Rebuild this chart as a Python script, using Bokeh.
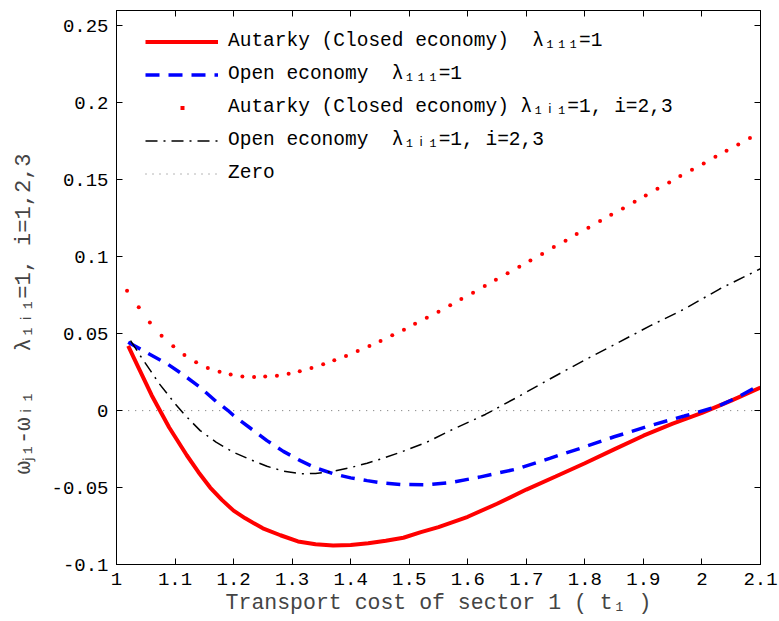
from bokeh.plotting import figure
from bokeh.models import LinearAxis, Legend, LegendItem, FixedTicker, Range1d
from bokeh.embed import file_html
from bokeh.resources import INLINE

# ---------------- data ----------------
aut_x = [1.02, 1.03, 1.04, 1.05, 1.06, 1.07, 1.08, 1.09, 1.10, 1.12, 1.14, 1.16,
         1.18, 1.20, 1.22, 1.25, 1.28, 1.31, 1.34, 1.37, 1.40, 1.43, 1.46, 1.49,
         1.52, 1.55, 1.60, 1.65, 1.70, 1.75, 1.80, 1.85, 1.90, 1.95, 2.00, 2.05,
         2.10]
aut_y = [0.042, 0.034, 0.026, 0.018, 0.010, 0.003, -0.004, -0.011, -0.017,
         -0.029, -0.040, -0.050, -0.058, -0.065, -0.070, -0.0765, -0.081, -0.085,
         -0.0868, -0.0876, -0.0873, -0.0862, -0.0846, -0.0826, -0.079, -0.0757,
         -0.069, -0.0605, -0.0513, -0.0428, -0.0342, -0.0252, -0.0163, -0.0085,
         -0.0015, 0.0065, 0.0150]

open_x = [1.02, 1.05, 1.087, 1.115, 1.143, 1.17, 1.19, 1.20, 1.23, 1.257, 1.285,
          1.314, 1.34, 1.371, 1.40, 1.428, 1.455, 1.485, 1.53, 1.57, 1.62, 1.684,
          1.74, 1.798, 1.85, 1.912, 1.97, 2.026, 2.06, 2.10]
open_y = [0.0444, 0.038, 0.0303, 0.023, 0.0151, 0.006, 0.0002, -0.0032, -0.0118,
          -0.0195, -0.0265, -0.0325, -0.0372, -0.0411, -0.0437, -0.0455, -0.0470,
          -0.0480, -0.0482, -0.0468, -0.0432, -0.0379, -0.031, -0.0238, -0.017,
          -0.0097, -0.0035, 0.0026, 0.0085, 0.0169]

aut23_x = [1.018, 1.038, 1.057, 1.077, 1.097, 1.116, 1.136, 1.156, 1.176, 1.195,
           1.215, 1.235, 1.254, 1.274, 1.294, 1.313, 1.333, 1.353, 1.372, 1.392,
           1.412, 1.432, 1.451, 1.471, 1.491, 1.510, 1.530, 1.550, 1.570, 1.589,
           1.609, 1.629, 1.648, 1.668, 1.688, 1.707, 1.727, 1.747, 1.767, 1.786,
           1.806, 1.826, 1.845, 1.865, 1.885, 1.904, 1.924, 1.944, 1.963, 1.983,
           2.003, 2.023, 2.042, 2.062, 2.082]
aut23_y = [0.0779, 0.0671, 0.0573, 0.0487, 0.0418, 0.0362, 0.0314, 0.0277, 0.0253,
           0.0234, 0.0221, 0.0219, 0.0221, 0.0227, 0.0240, 0.0255, 0.0277, 0.0301,
           0.0327, 0.0355, 0.0388, 0.0420, 0.0453, 0.0490, 0.0526, 0.0565, 0.0604,
           0.0643, 0.0684, 0.0725, 0.0766, 0.0810, 0.0851, 0.0892, 0.0935, 0.0976,
           0.1017, 0.1063, 0.1104, 0.1147, 0.1188, 0.1232, 0.1273, 0.1314, 0.1357,
           0.1398, 0.1442, 0.1483, 0.1524, 0.1565, 0.1606, 0.1649, 0.1688, 0.1729,
           0.1771]

open23_x = [1.024, 1.04, 1.058, 1.072, 1.087, 1.10, 1.115, 1.13, 1.143, 1.17,
            1.20, 1.23, 1.257, 1.285, 1.314, 1.34, 1.371, 1.40, 1.428, 1.455,
            1.485, 1.53, 1.57, 1.63, 1.684, 1.74, 1.798, 1.855, 1.912, 1.97,
            2.03, 2.10]
open23_y = [0.0455, 0.036, 0.026, 0.018, 0.0108, 0.0045, -0.0021, -0.008, -0.013,
            -0.0205, -0.0271, -0.032, -0.0362, -0.0393, -0.0410, -0.0408, -0.0394,
            -0.0370, -0.0342, -0.0310, -0.0271, -0.0205, -0.0130, -0.0025, 0.0086,
            0.0205, 0.0325, 0.0438, 0.0552, 0.0660, 0.0790, 0.0922]

zero_x = [1.02, 2.10]
zero_y = [0.0, 0.0]

x_ticks = [1.0, 1.1, 1.2, 1.3, 1.4, 1.5, 1.6, 1.7, 1.8, 1.9, 2.0, 2.1]
x_tick_labels = ["1", "1.1", "1.2", "1.3", "1.4", "1.5", "1.6", "1.7", "1.8",
                 "1.9", "2", "2.1"]
y_ticks = [-0.1, -0.05, 0.0, 0.05, 0.1, 0.15, 0.2, 0.25]
y_tick_labels = ["-0.1", "-0.05", "0", "0.05", "0.1", "0.15", "0.2", "0.25"]

NB = "\u00a0"
legend_labels = [
    "Autarky (Closed economy)" + NB * 2 + "λ₁₁₁=1",
    "Open economy" + NB * 2 + "λ₁₁₁=1",
    "Autarky (Closed economy)" + NB + "λ₁ᵢ₁=1, i=2,3",
    "Open economy" + NB * 2 + "λ₁ᵢ₁=1, i=2,3",
    "Zero",
]
x_label = "Transport cost of sector 1 ( t₁ )"
y_label = "ωⱼ₁-ωᵢ₁" + NB * 3 + "λ₁ᵢ₁=1, i=1,2,3" + NB * 4

FONT = "Liberation Mono"

# ---------------- figure ----------------
p = figure(width=779, height=621, output_backend="svg", toolbar_location=None,
           x_range=Range1d(1.0, 2.1), y_range=Range1d(-0.1, 0.26),
           min_border_left=116, min_border_right=19, min_border_top=10,
           min_border_bottom=57)
p.grid.visible = False
p.outline_line_color = "black"
p.outline_line_width = 1
p.background_fill_color = "white"
p.border_fill_color = "white"

xt = FixedTicker(ticks=x_ticks)
yt = FixedTicker(ticks=y_ticks)
x_over = {t: s for t, s in zip(x_ticks, x_tick_labels)}
y_over = {t: s for t, s in zip(y_ticks, y_tick_labels)}


def style_axis(ax, ticker, over):
    ax.ticker = ticker
    ax.major_tick_in = 6
    ax.major_tick_out = 0
    ax.minor_tick_line_color = None
    ax.axis_line_color = "black"
    ax.major_tick_line_color = "black"
    ax.major_label_text_font = FONT
    ax.major_label_text_color = "black"
    ax.major_label_text_font_size = "19px"
    ax.major_label_overrides = over


xa = p.xaxis[0]
ya = p.yaxis[0]
style_axis(xa, xt, x_over)
style_axis(ya, yt, y_over)
xa.major_label_standoff = 8
ya.major_label_standoff = 8
xa.axis_label = x_label
xa.axis_label_text_font = FONT
xa.axis_label_text_font_size = "21.5px"
xa.axis_label_text_font_style = "normal"
xa.axis_label_standoff = 3
ya.axis_label = y_label
ya.axis_label_text_font = FONT
ya.axis_label_text_font_size = "22px"
ya.axis_label_text_font_style = "normal"
ya.axis_label_standoff = 11

# box ticks on top and right, without labels
top_ax = LinearAxis()
right_ax = LinearAxis()
style_axis(top_ax, xt, {t: "" for t in x_ticks})
style_axis(right_ax, yt, {t: "" for t in y_ticks})
top_ax.major_label_standoff = 0
right_ax.major_label_standoff = 0
p.add_layout(top_ax, "above")
p.add_layout(right_ax, "right")

# ---------------- series ----------------
r_zero = p.line(zero_x, zero_y, line_color="#6e6e6e", line_width=1, line_dash="1 6")
r_aut = p.line(aut_x, aut_y, line_color="#ff0000", line_width=4)
r_open = p.line(open_x, open_y, line_color="#0000ff", line_width=3.5,
                line_dash="14 9")
r_open23 = p.line(open23_x, open23_y, line_color="black", line_width=1.5,
                  line_dash="12 6 2 6")
r_aut23 = p.scatter(aut23_x, aut23_y, marker="circle", size=4,
                    fill_color="#ff0000", line_color=None)
# legend key for the dotted series (a one-point line draws nothing on the plot;
# its legend key is one short red dash = a single dot in the key's middle)
r_aut23_key = p.line(aut23_x[:1], aut23_y[:1], line_color="#ff0000",
                     line_width=4, line_dash="0 35 4 200")

legend = Legend(items=[
    LegendItem(label=legend_labels[0], renderers=[r_aut]),
    LegendItem(label=legend_labels[1], renderers=[r_open]),
    LegendItem(label=legend_labels[2], renderers=[r_aut23_key]),
    LegendItem(label=legend_labels[3], renderers=[r_open23]),
    LegendItem(label=legend_labels[4], renderers=[r_zero]),
], location=(29, 380))
legend.border_line_alpha = 0
legend.background_fill_alpha = 0
legend.glyph_width = 73
legend.glyph_height = 21
legend.label_height = 21
legend.label_standoff = 10
legend.spacing = 11
legend.padding = 0
legend.margin = 0
legend.label_text_font = FONT
legend.label_text_font_size = "19.5px"
legend.label_text_color = "black"
p.add_layout(legend)

open("out.html", "w").write(file_html(p, INLINE))
